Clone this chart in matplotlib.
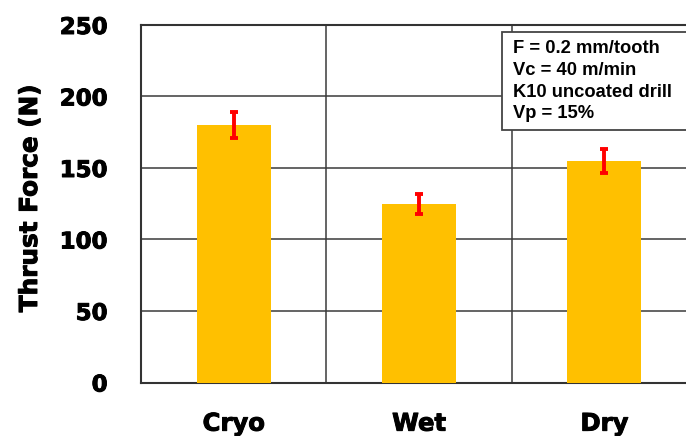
import numpy as np
import matplotlib.pyplot as plt
import matplotlib.patheffects as pe
from matplotlib.patches import Rectangle

plt.rcParams['font.family'] = ['Liberation Sans', 'DejaVu Sans']

# thrust force per cooling condition
condiciones = ["Cryo", "Wet", "Dry"]
fuerza = [180, 125, 155]
error = [9, 7, 8.5]
yticks = [0, 50, 100, 150, 200, 250]
notas = ["F = 0.2 mm/tooth", "Vc = 40 m/min", "K10 uncoated drill", "Vp = 15%"]

# heavy face for the axis texts
negrita = dict(family="DejaVu Sans", fontweight="bold")
grueso = [pe.withStroke(linewidth=0.7, foreground="black")]

fig = plt.figure(figsize=(6.86, 4.36), dpi=100)
# axes run a little past the right edge, as in the original slide
ax = fig.add_axes([141/686, 1 - 382.5/436, 556/686, 357.5/436])

x = np.arange(len(condiciones))
ax.bar(x, fuerza, width=0.4, color="#FFC000", zorder=3)
ax.errorbar(x, fuerza, yerr=error, fmt="none", ecolor="#FF0000",
            elinewidth=2.8, capsize=2.8, capthick=2.8, zorder=4)

ax.set_xlim(-0.5, 2.5)
ax.set_ylim(0, 250)
ax.set_yticks(yticks)
ax.set_yticklabels([str(v) for v in yticks], fontsize=16.5, **negrita)
ax.set_xticks(x)
ax.set_xticklabels(condiciones, fontsize=17.5, **negrita)
for t in ax.get_xticklabels() + ax.get_yticklabels():
    t.set_path_effects(grueso)
ax.set_xticks([0.5, 1.5], minor=True)
ax.tick_params(axis="y", length=0, pad=24)
ax.tick_params(axis="x", which="major", length=0, pad=21)
ax.tick_params(axis="x", which="minor", length=0)

ax.grid(axis="y", color="#3a3a3a", linewidth=1.1, zorder=0)
ax.grid(axis="x", which="minor", color="#3a3a3a", linewidth=1.1, zorder=0)
ax.set_axisbelow(True)

for lado in ["left", "bottom", "top"]:
    ax.spines[lado].set_color("#333333")
    ax.spines[lado].set_linewidth(1.5)
ax.spines["right"].set_visible(False)

fig.text(30/686, 1 - 198/436, "Thrust Force (N)", rotation=90, fontsize=17.8,
         ha="center", va="center", path_effects=grueso, **negrita)

# parameter box in the top right corner
caja = Rectangle((502/686, 1 - 130/436), 200/686, 98/436, transform=fig.transFigure,
                 facecolor="white", edgecolor="#444444", linewidth=1.3, zorder=10)
fig.patches.append(caja)
for i, linea in enumerate(notas):
    fig.text(513/686, 1 - (53 + i*21.8)/436, linea, fontsize=13.2, fontweight="bold",
             va="baseline", ha="left", zorder=11)

fig.savefig("out.png", dpi=100)
